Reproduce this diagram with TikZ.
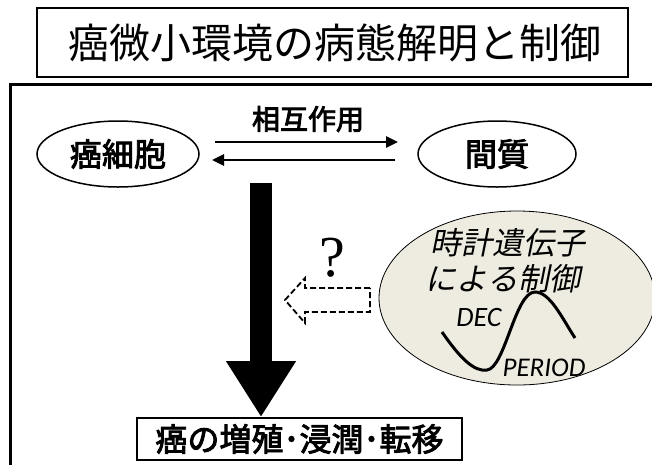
\documentclass[tikz,border=0pt]{standalone}
\usepackage{fontspec}
\setmainfont{Noto Sans CJK JP}
\newfontfamily\jpit[FakeSlant=0.2]{Noto Sans CJK JP}
\newfontfamily\latit{Carlito}
\newfontfamily\qfont{Liberation Serif}
\newcommand\semibold[1]{\special{pdf:literal direct 2 Tr 0.9 w}#1\special{pdf:literal direct 0 Tr}}
\usetikzlibrary{arrows.meta,shapes.geometric}
\definecolor{beige}{RGB}{238,236,225}
\tikzset{
  cell/.style={draw, ellipse, line width=1.5pt, minimum width=162pt, minimum height=66pt, font=\fontsize{32}{36}\selectfont},
  boxed/.style={draw, line width=1.8pt, inner sep=0pt},
  thin arrow/.style={line width=2.6pt, -{Triangle[width=11pt,length=12pt]}},
}
\begin{document}
\begin{tikzpicture}[x=1pt,y=-1pt]
\useasboundingbox (0,0) rectangle (652,464);
\clip (0,0) rectangle (652,464);
\fill[white] (0,0) rectangle (652,464);
% frame
\draw[line width=3pt] (10,470) -- (10,84) -- (670,84);
% title
\node[boxed, minimum width=591pt, minimum height=69pt] (title) at (332.5,42.5) {};
\node[font=\fontsize{41}{44}\selectfont] (titletext) at (335,43) {癌微小環境の病態解明と制御};
% cells
\node[cell] (cancer) at (118,154) {\semibold{癌細胞}};
\node[cell, minimum width=158pt] (stroma) at (497,154) {\semibold{間質}};
\node[font=\fontsize{28}{32}\selectfont] (inter) at (308,119) {\semibold{相互作用}};
\coordinate (a1s) at (215,142);
\coordinate (a1e) at (398,142);
\coordinate (a2s) at (395,160);
\coordinate (a2e) at (212,160);
\draw[thin arrow] (a1s) -- (a1e);
\draw[thin arrow] (a2s) -- (a2e);
% bottom box
\node[boxed, minimum width=325pt, minimum height=42pt, font=\fontsize{32}{36}\selectfont] (result) at (299.5,439) {\semibold{癌の増殖･浸潤･転移}};
% big arrow
\coordinate (bigtop) at (261,183);
\draw[line width=22pt, -{Triangle[width=66pt,length=56pt]}] (bigtop) -- (bigtop |- result.north);
% clock gene ellipse
\node[draw, ellipse, fill=beige, line width=0.8pt, minimum width=276pt, minimum height=174pt] (clock) at (517,298) {};
\node[font=\fontsize{31}{34}\selectfont\jpit] (clk1) at (508,243) {時計遺伝子};
\node[font=\fontsize{31}{34}\selectfont\jpit] (clk2) at (503,279) {による制御};
\draw[line width=3pt] (442,332) .. controls (460,358) and (474,372) .. (487,370)
  .. controls (505,368) and (515,292) .. (535,292)
  .. controls (550,292) and (562,318) .. (575,338);
\node[font=\fontsize{28}{30}\selectfont\latit\itshape] (dec) at (479,318) {DEC};
\node[font=\fontsize{27}{30}\selectfont\latit\itshape] (period) at (544,368) {PERIOD};
% dashed arrow
\draw[line width=1.8pt, dash pattern=on 6pt off 3pt] (370,288) -- (305,288) -- (305,278) -- (285,300) -- (305,323) -- (305,312) -- (370,312) -- cycle;
\node[font=\fontsize{58}{60}\selectfont\qfont] (q) at (332,258) {?};
\end{tikzpicture}
\end{document}
